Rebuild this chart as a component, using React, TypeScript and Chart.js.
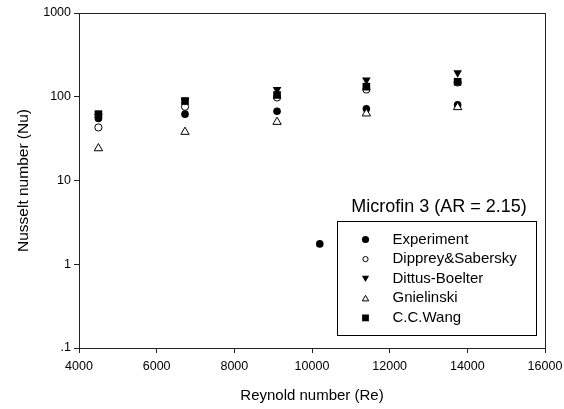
import { useEffect, useRef } from 'react';
import { Chart, registerables } from 'chart.js';

Chart.register(...registerables);

// ---- data ----
const reynolds = [4500, 6730, 9100, 11400, 13750];
const experimentRe = [4500, 6730, 9100, 10200, 11400, 13750];
const experimentNu = [55, 62, 67, 1.75, 72, 80];
const dippreyNu = [43, 76, 98, 122, 148];
const dittusNu = [58, 90, 122, 158, 194];
const gnielinskiNu = [24.2, 38, 50, 63, 75];
const wangNu = [62, 89, 105, 132, 151];

const xTicks = [4000, 6000, 8000, 10000, 12000, 14000, 16000];
const yTicks = [0.1, 1, 10, 100, 1000];
const yTickLabels = ['.1', '1', '10', '100', '1000'];

const seriesNames = ['Experiment', 'Dipprey&Sabersky', 'Dittus-Boelter', 'Gnielinski', 'C.C.Wang'];
const legendTitle = 'Microfin 3 (AR = 2.15)';
const xTitle = 'Reynold number (Re)';
const yTitle = 'Nusselt number (Nu)';

const FONT = '"Liberation Sans", Arial, Helvetica, sans-serif';
const INK = '#000';
const AXIS = '#222';

type Marker = 'circleFilled' | 'circleOpen' | 'triDown' | 'triUp' | 'square';
const markers: Marker[] = ['circleFilled', 'circleOpen', 'triDown', 'triUp', 'square'];

function drawMarker(ctx: CanvasRenderingContext2D, m: Marker, x: number, y: number, r: number) {
  ctx.save();
  ctx.lineWidth = 1;
  ctx.strokeStyle = INK;
  ctx.fillStyle = INK;
  ctx.beginPath();
  if (m === 'circleFilled') {
    ctx.arc(x, y, r, 0, Math.PI * 2);
    ctx.fill();
  } else if (m === 'circleOpen') {
    ctx.arc(x, y, r, 0, Math.PI * 2);
    ctx.fillStyle = '#fff';
    ctx.fill();
    ctx.stroke();
  } else if (m === 'triDown') {
    ctx.moveTo(x - r, y - r * 0.8);
    ctx.lineTo(x + r, y - r * 0.8);
    ctx.lineTo(x, y + r * 0.9);
    ctx.closePath();
    ctx.fill();
  } else if (m === 'triUp') {
    ctx.moveTo(x - r, y + r * 0.8);
    ctx.lineTo(x + r, y + r * 0.8);
    ctx.lineTo(x, y - r * 0.9);
    ctx.closePath();
    ctx.fillStyle = '#fff';
    ctx.fill();
    ctx.stroke();
  } else {
    ctx.rect(x - r, y - r, 2 * r, 2 * r);
    ctx.fill();
  }
  ctx.restore();
}

const framePlugin = {
  id: 'frame',
  afterDatasetsDraw(chart: any) {
    const { ctx, chartArea: a } = chart;
    ctx.save();
    ctx.strokeStyle = AXIS;
    ctx.lineWidth = 1;
    ctx.strokeRect(Math.round(a.left) + 0.5, Math.round(a.top) + 0.5, Math.round(a.right - a.left), Math.round(a.bottom - a.top));
    ctx.restore();
  },
};

const legendPlugin = {
  id: 'customLegend',
  afterDraw(chart: any) {
    const { ctx, chartArea: a } = chart;
    const boxL = Math.round(a.right - 208) + 0.5;
    const boxR = Math.round(a.right - 9) + 0.5;
    const boxT = Math.round(a.bottom - 127) + 0.5;
    const boxB = Math.round(a.bottom - 13) + 0.5;
    ctx.save();
    ctx.fillStyle = INK;
    ctx.font = `18px ${FONT}`;
    ctx.textAlign = 'center';
    ctx.textBaseline = 'middle';
    ctx.fillText(legendTitle, (boxL + boxR) / 2 + 2, boxT - 14);
    ctx.strokeStyle = INK;
    ctx.lineWidth = 1;
    ctx.strokeRect(boxL, boxT, boxR - boxL, boxB - boxT);
    ctx.font = `15px ${FONT}`;
    ctx.textAlign = 'left';
    const sizes = [3.6, 2.6, 3.6, 3.2, 3.4];
    seriesNames.forEach((name, i) => {
      const y = boxT + 18 + i * 19.6;
      drawMarker(ctx, markers[i], boxL + 28, y, sizes[i]);
      ctx.fillStyle = INK;
      ctx.fillText(name, boxL + 55, y);
    });
    ctx.restore();
  },
};

export default function App() {
  const ref = useRef<HTMLCanvasElement | null>(null);

  useEffect(() => {
    document.body.style.margin = '0';
    const canvas = ref.current;
    if (!canvas) return;

    const pts = (xs: number[], ys: number[]) => xs.map((x, k) => ({ x, y: ys[k] }));

    const chart = new Chart(canvas, {
      type: 'scatter',
      data: {
        datasets: [
          {
            label: seriesNames[0],
            data: pts(experimentRe, experimentNu),
            pointStyle: 'circle',
            pointRadius: 3.8,
            backgroundColor: INK,
            borderColor: INK,
            borderWidth: 0,
            order: 5,
          },
          {
            label: seriesNames[1],
            data: pts(reynolds, dippreyNu),
            pointStyle: 'circle',
            pointRadius: 3.6,
            backgroundColor: '#fff',
            borderColor: INK,
            borderWidth: 1,
            order: 4,
          },
          {
            label: seriesNames[2],
            data: pts(reynolds, dittusNu),
            pointStyle: 'triangle',
            rotation: 180,
            pointRadius: 5,
            backgroundColor: INK,
            borderColor: INK,
            borderWidth: 0,
            order: 3,
          },
          {
            label: seriesNames[3],
            data: pts(reynolds, gnielinskiNu),
            pointStyle: 'triangle',
            pointRadius: 4.8,
            backgroundColor: '#fff',
            borderColor: INK,
            borderWidth: 1,
            order: 2,
          },
          {
            label: seriesNames[4],
            data: pts(reynolds, wangNu),
            pointStyle: 'rect',
            pointRadius: 5.4,
            backgroundColor: INK,
            borderColor: INK,
            borderWidth: 0,
            order: 1,
          },
        ] as any,
      },
      options: {
        animation: false,
        responsive: false,
        layout: { padding: { top: 13, right: 19, left: 0, bottom: 0 } },
        plugins: { legend: { display: false }, tooltip: { enabled: false } },
        scales: {
          x: {
            type: 'linear',
            min: 4000,
            max: 16000,
            afterBuildTicks: (s: any) => {
              s.ticks = xTicks.map((v) => ({ value: v }));
            },
            afterFit: (s: any) => {
              s.height = 61;
              s.paddingLeft = 0;
              s.paddingRight = 0;
            },
            ticks: {
              callback: (v: any) => String(v),
              font: { family: FONT, size: 12.5 },
              color: INK,
              padding: 6,
              maxRotation: 0,
            },
            grid: { display: true, drawOnChartArea: false, drawTicks: true, tickLength: 5, color: AXIS },
            border: { display: true, color: AXIS },
            title: {
              display: true,
              text: xTitle,
              font: { family: FONT, size: 15 },
              color: INK,
              padding: { top: 0, bottom: 4 },
            },
          },
          y: {
            type: 'logarithmic',
            min: 0.1,
            max: 1000,
            afterBuildTicks: (s: any) => {
              s.ticks = yTicks.map((v) => ({ value: v }));
            },
            afterFit: (s: any) => {
              s.width = 79;
              s.paddingTop = 0;
              s.paddingBottom = 0;
            },
            ticks: {
              callback: (v: any) => {
                const idx = yTicks.findIndex((t) => Math.abs(t - Number(v)) < t * 1e-6);
                return idx >= 0 ? yTickLabels[idx] : '';
              },
              font: { family: FONT, size: 12.5 },
              color: INK,
              padding: 3,
            },
            grid: { display: true, drawOnChartArea: false, drawTicks: true, tickLength: 5, color: AXIS },
            border: { display: true, color: AXIS },
            title: {
              display: true,
              text: yTitle,
              font: { family: FONT, size: 15.5 },
              color: INK,
              padding: { top: 14, bottom: 0 },
            },
          },
        },
      } as any,
      plugins: [framePlugin, legendPlugin],
    });

    return () => chart.destroy();
  }, []);

  return (
    <div style={{ position: 'absolute', left: 0, top: 0, width: 564, height: 409, background: '#fff' }}>
      <canvas ref={ref} width={564} height={409} style={{ display: 'block', width: 564, height: 409 }} />
    </div>
  );
}
